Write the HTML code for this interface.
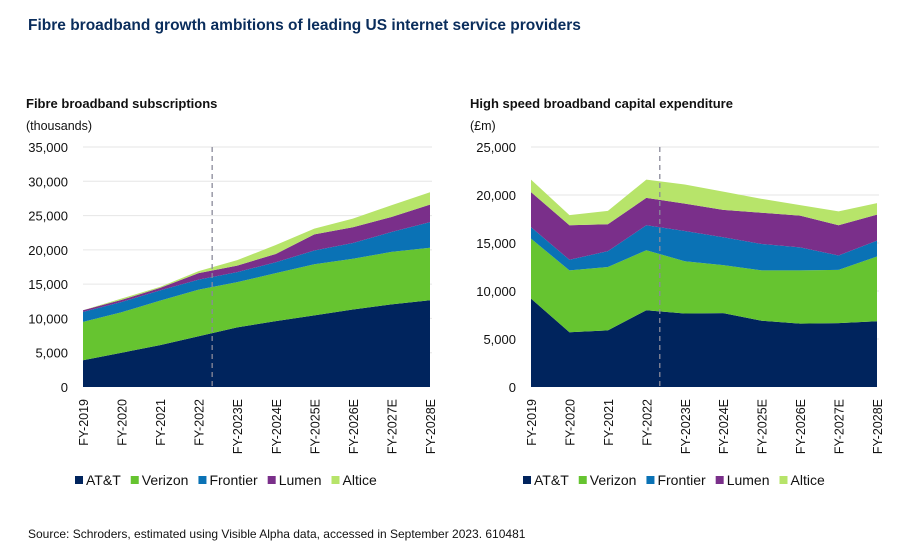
<!DOCTYPE html>
<html><head><meta charset="utf-8"><style>
body{margin:0;background:#fff;}
svg{display:block;font-family:"Liberation Sans",sans-serif;}
</style></head><body>
<svg id="c" width="902" height="556" viewBox="0 0 902 556">
<text x="28" y="30" font-size="15.5" font-weight="bold" fill="#0a2d5c">Fibre broadband growth ambitions of leading US internet service providers</text>
<text x="26" y="108" font-size="13" font-weight="bold" fill="#111">Fibre broadband subscriptions</text>
<text x="26" y="130" font-size="12.5" fill="#111">(thousands)</text>
<text x="470" y="108" font-size="13" font-weight="bold" fill="#111">High speed broadband capital expenditure</text>
<text x="470" y="130" font-size="12.5" fill="#111">(£m)</text>
<text x="28" y="538" font-size="12" fill="#111">Source: Schroders, estimated using Visible Alpha data, accessed in September 2023. 610481</text>
<g id="left"></g>
<g id="right"></g>
</svg>
<script>
const categories=["FY-2019","FY-2020","FY-2021","FY-2022","FY-2023E","FY-2024E","FY-2025E","FY-2026E","FY-2027E","FY-2028E"];
const seriesNames=["AT&T","Verizon","Frontier","Lumen","Altice"];
const seriesColors=["#00245d","#66c430","#0a72b5","#7a2f8a","#b7e46a"];
// Left: subscriptions (thousands)
const subsATT=[3900,5000,6100,7400,8700,9600,10450,11300,12050,12650];
const subsVerizon=[5600,5900,6500,6800,6600,7000,7450,7400,7650,7650];
const subsFrontier=[1450,1500,1500,1450,1450,1600,2000,2300,2900,3750];
const subsLumen=[250,300,350,950,950,1200,2350,2300,2200,2550];
const subsAltice=[0,200,150,300,800,1300,850,1250,1700,1800];
const leftTicks=[0,5000,10000,15000,20000,25000,30000,35000];
// Right: capex (£m)
const capATT=[9200,5700,5900,8000,7650,7700,6900,6600,6650,6850];
const capVerizon=[6250,6450,6600,6250,5450,5000,5250,5550,5550,6750];
const capFrontier=[1200,1100,1650,2600,3150,2900,2750,2400,1500,1650];
const capLumen=[3650,3600,2800,2850,2850,2850,3250,3300,3150,2700];
const capAltice=[1300,1050,1400,1900,2000,1900,1450,1100,1450,1200];
const rightTicks=[0,5000,10000,15000,20000,25000];
const dividerPosition=3.35;

const NS="http://www.w3.org/2000/svg";
function mk(tag,attrs,parent){const e=document.createElementNS(NS,tag);for(const k in attrs)e.setAttribute(k,attrs[k]);parent.appendChild(e);return e;}

function drawChart(g,series,ticks,x0,x1,yTop,yBot,labelX,prefix){
  const max=ticks[ticks.length-1];
  const xs=i=>x0+(x1-x0)*i/(categories.length-1);
  const ys=v=>yBot-(yBot-yTop)*v/max;
  ticks.forEach(t=>{
    if(t>0){const l=mk("line",{x1:x0,x2:x1+2,y1:ys(t),y2:ys(t),stroke:"#e6e6e6","stroke-width":1},g);
    
    }
    const tx=mk("text",{x:labelX,y:ys(t)+5,"text-anchor":"end","font-size":"13",fill:"#111"},g);
    tx.textContent=t.toLocaleString("en-US");
    
    
  });
  let base=categories.map(()=>0);
  series.forEach((vals,si)=>{
    const top=base.map((b,i)=>b+vals[i]);
    let d="M"+top.map((v,i)=>xs(i)+","+ys(v)).join(" L");
    for(let i=categories.length-1;i>=0;i--)d+=" L"+xs(i)+","+ys(base[i]);
    d+=" Z";
    const p=mk("path",{d:d,fill:seriesColors[si]},g);
    
    
    base=top;
  });
  const dl=mk("line",{x1:xs(dividerPosition),x2:xs(dividerPosition),y1:yTop,y2:yBot,stroke:"#8a8a9a","stroke-width":1.3,"stroke-dasharray":"5,4"},g);
  
  
  categories.forEach((c,i)=>{
    const t=mk("text",{x:0,y:0,"text-anchor":"end","font-size":"12.5",fill:"#111",transform:`translate(${xs(i)+5},${yBot+12}) rotate(-90)`},g);
    t.textContent=c;
    
    
  });
  let lx=x0-8;
  seriesNames.forEach((n,si)=>{
    const r=mk("rect",{x:lx,y:476,width:8,height:8,fill:seriesColors[si]},g);
    
    
    const t=mk("text",{x:lx+11,y:485,"font-size":"14",fill:"#111"},g);
    t.textContent=n;
    
    
    lx+=11+t.getComputedTextLength()+10;
  });
}
drawChart(document.getElementById("left"),[subsATT,subsVerizon,subsFrontier,subsLumen,subsAltice],leftTicks,83,430,147,387,68,"subs");
drawChart(document.getElementById("right"),[capATT,capVerizon,capFrontier,capLumen,capAltice],rightTicks,531,877,147,387,516,"capex");
</script>
</body></html>
